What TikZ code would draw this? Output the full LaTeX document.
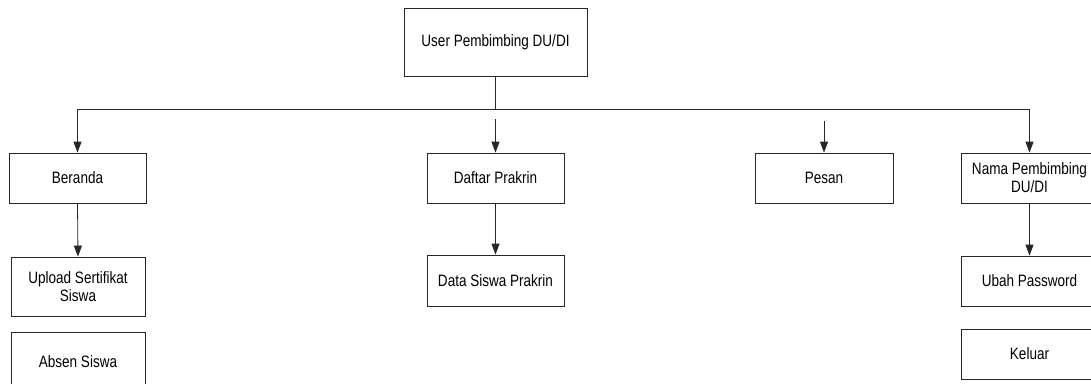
\documentclass[tikz,border=0pt]{standalone}
\usepackage{fontspec}
\setmainfont{Liberation Sans}[FakeStretch=0.82]
\usetikzlibrary{arrows.meta}
\begin{document}
\begin{tikzpicture}[x=1pt,y=-1pt,
  box/.style={draw=black!85,line width=0.8pt,inner sep=0pt,align=center,
    minimum width=137pt,minimum height=50pt,
    font=\fontsize{16.5pt}{18pt}\selectfont},
  conn/.style={draw=black!85,line width=0.8pt},
  arr/.style={conn,-{Triangle[length=11pt,width=8pt]}}]
\useasboundingbox (0,0) rectangle (1091,383);
\clip (0,0) rectangle (1091,383);
\node[box,minimum width=183pt,minimum height=68pt] (top) at (495.5,42) {User Pembimbing DU/DI};
\node[box] (beranda) at (77.5,178) {Beranda};
\node[box] (daftar) at (495.5,178) {Daftar Prakrin};
\node[box,minimum width=138pt] (pesan) at (824,178) {Pesan};
\node[box] (nama) at (1029.5,178) {Nama Pembimbing\\DU/DI};
\node[box,minimum width=134pt,minimum height=59pt] (upload) at (78,286.5) {Upload Sertifikat\\Siswa};
\node[box,minimum width=134pt,minimum height=59pt] (absen) at (78,361.5) {Absen Siswa};
\node[box,minimum height=51pt] (data) at (495.5,280.5) {Data Siswa Prakrin};
\node[box] (ubah) at (1029.5,281) {Ubah Password};
\node[box] (keluar) at (1029.5,354) {Keluar};
\coordinate (busL) at (77.5,109);
\coordinate (busR) at (1029.5,109);
\coordinate (busM) at (495.5,109);
\coordinate (dstart) at (495.5,119);
\coordinate (pstart) at (824,121);
\draw[conn] (top.south) -- (busM);
\draw[conn] (busL) -- (busR);
\draw[arr] (busL) -- (beranda.north);
\draw[arr] (busR) -- (nama.north);
\draw[arr] (dstart) -- (daftar.north);
\draw[arr] (pstart) -- (pesan.north);
\draw[arr] (beranda.south) -- (upload.north);
\draw[arr] (daftar.south) -- (data.north);
\draw[arr] (nama.south) -- (ubah.north);
\end{tikzpicture}
\end{document}
